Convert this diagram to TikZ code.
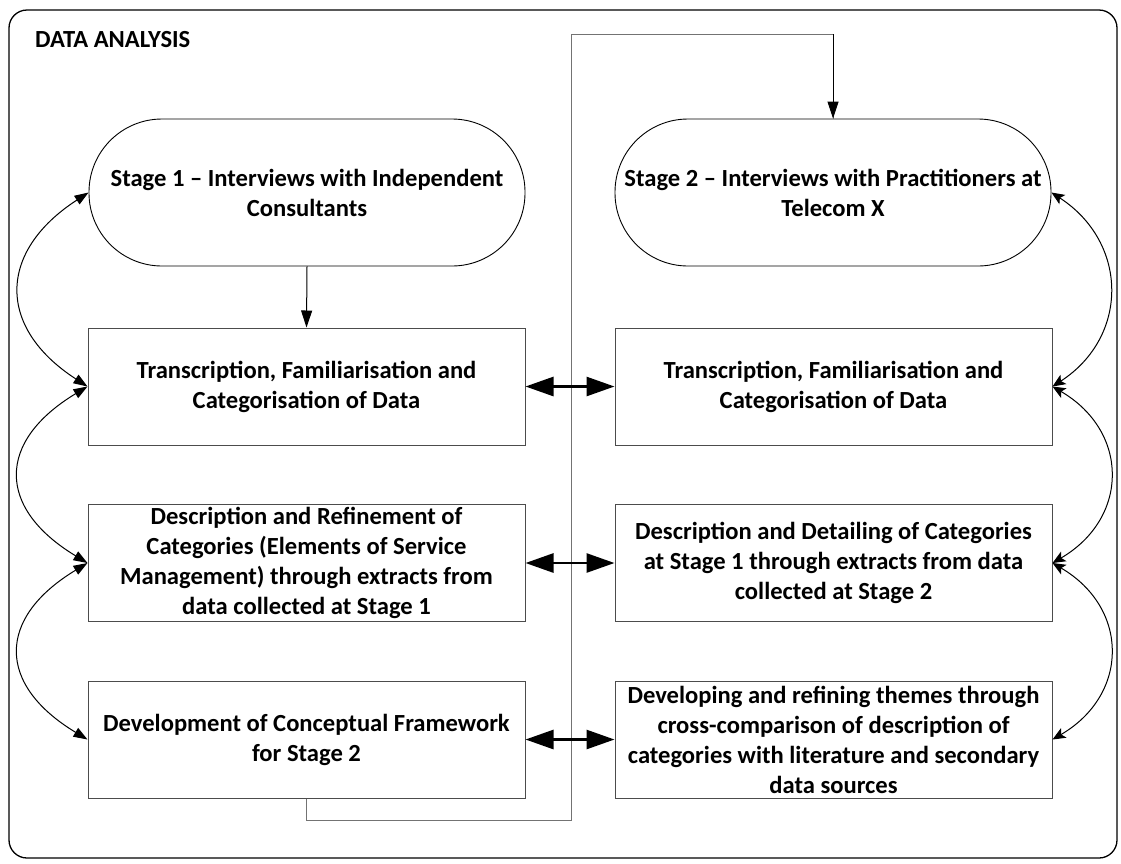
\documentclass[tikz,border=0pt]{standalone}
\usepackage{fontspec}
\setmainfont{Carlito}
\usetikzlibrary{arrows.meta}
\begin{document}
\begin{tikzpicture}[x=1pt,y=-1pt,
  every node/.style={font=\fontsize{24.6}{30}\selectfont\bfseries, align=center, inner sep=0pt},
  box/.style={draw=black!70, line width=1pt, minimum width=437pt, minimum height=117pt},
  oval/.style={draw=black, line width=0.9pt, rectangle, rounded corners=73pt, minimum width=436pt, minimum height=147pt},
  frame/.style={draw=black, line width=1.3pt, rounded corners=18pt},
  loopline/.style={draw=black!55, line width=1pt},
  sarrow/.style={draw=black, line width=1pt, -{Triangle[length=17pt,width=11pt]}},
  darrow/.style={draw=black, line width=2.7pt, {Triangle[length=28pt,width=19pt]}-{Triangle[length=28pt,width=19pt]}},
  lcurve/.style={draw=black, line width=1pt, {Triangle[length=14pt,width=10pt]}-{Triangle[length=14pt,width=10pt]}},
  rcurve/.style={draw=black, line width=1pt, {Stealth[length=13pt,width=11pt,inset=3pt]}-{Stealth[length=13pt,width=11pt,inset=3pt]}}
]
\useasboundingbox (0,0) rectangle (1121,863);
\fill[white] (0,0) rectangle (1121,863);
\draw[frame] (9,10) rectangle (1117,858);
\node[anchor=base west] (title) at (35,47) {DATA ANALYSIS};

% left column
\node[oval] (o1) at (307,192.5) {Stage 1 – Interviews with Independent\\Consultants};
\node[box] (t1) at (306.5,386.5) {Transcription, Familiarisation and\\Categorisation of Data};
\node[box] (d1) at (306.5,563) {Description and Refinement of\\Categories (Elements of Service\\Management) through extracts from\\data collected at Stage 1};
\node[box] (v1) at (306.5,739.5) {Development of Conceptual Framework\\for Stage 2};

% right column
\node[oval] (o2) at (833,192.5) {Stage 2 – Interviews with Practitioners at\\Telecom X};
\node[box] (t2) at (833.5,386.5) {Transcription, Familiarisation and\\Categorisation of Data};
\node[box] (d2) at (833.5,563) {Description and Detailing of Categories\\at Stage 1 through extracts from data\\collected at Stage 2};
\node[box] (v2) at (833.5,739.5) {Developing and refining themes through\\cross-comparison of description of\\categories with literature and secondary\\data sources};

% loop connector
\coordinate (lb) at (571,820);
\coordinate (lt) at (571,34);
\draw[loopline] (v1.south) |- (lb) -- (lt) -| (o2.north);
\draw[sarrow] (lt -| o2.north) -- (o2.north);
\draw[sarrow] (o1.south) -- (t1.north);

% double arrows
\draw[darrow] (t1.east) -- (t2.west);
\draw[darrow] (d1.east) -- (d2.west);
\draw[darrow] (v1.east) -- (v2.west);

% left curves
\draw[lcurve] (o1.west) .. controls +(-91,59) and +(-91,-59) .. (t1.west);
\draw[lcurve] (t1.west) .. controls +(-91,55) and +(-91,-55) .. (d1.west);
\draw[lcurve] (d1.west) .. controls +(-91,55) and +(-91,-55) .. (v1.west);

% right curves
\draw[rcurve] (o2.east) .. controls +(77,50) and +(77,-50) .. (t2.east);
\draw[rcurve] (t2.east) .. controls +(77,45) and +(77,-45) .. (d2.east);
\draw[rcurve] (d2.east) .. controls +(77,45) and +(77,-45) .. (v2.east);
\end{tikzpicture}
\end{document}
